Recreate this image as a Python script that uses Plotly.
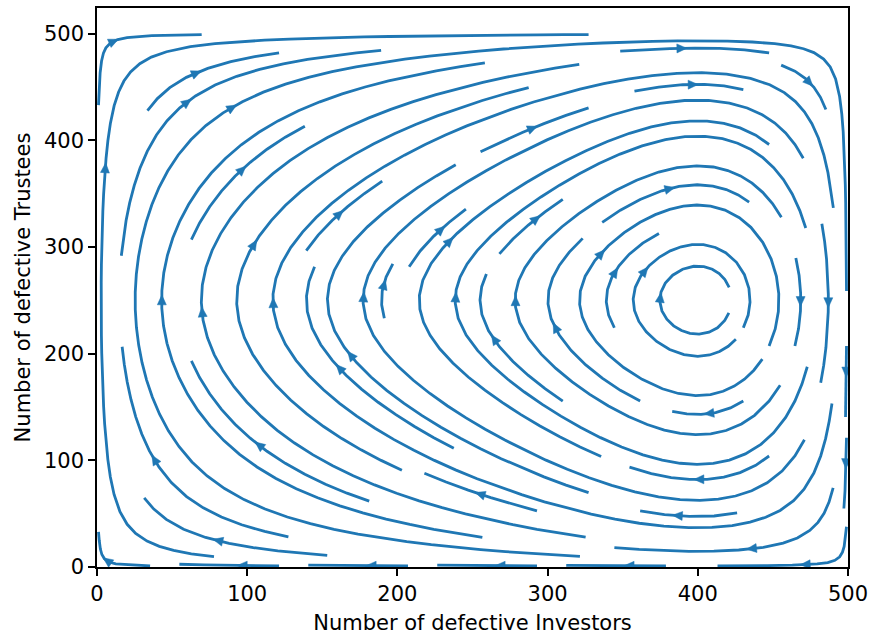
import numpy as np
import plotly.graph_objects as go

# ---------------- data ----------------
N_TOTAL = 500            # population size of each role
X_EQ = 400               # interior rest point: defective investors
Y_EQ = 250               # interior rest point: defective trustees
BETA_X = 0.016           # selection intensity felt by trustees (per investor)
BETA_Y = 0.014           # selection intensity felt by investors (per trustee)
grid_x = list(range(1, 500))
grid_y = list(range(1, 500))
x_ticks = [0, 100, 200, 300, 400, 500]
y_ticks = [0, 100, 200, 300, 400, 500]
x_range = [0, 500]
y_range = [0, 523.9]
x_title = "Number of defective Investors"
y_title = "Number of defective Trustees"
LINE_COLOR = "#1f77b4"

# ---------------- vector field (pairwise-comparison dynamics) ----------------
gx = np.array(grid_x, float)
gy = np.array(grid_y, float)
XX, YY = np.meshgrid(gx, gy)
U = XX * (N_TOTAL - XX) * np.tanh(BETA_Y * (YY - Y_EQ))
V = YY * (N_TOTAL - YY) * np.tanh(BETA_X * (X_EQ - XX))


# ---------------- streamline integration (matplotlib-style) ----------------
class OutOfBounds(Exception):
    pass


class Terminate(Exception):
    pass


class InvalidIndex(Exception):
    pass


class Grid:
    def __init__(self, x, y):
        self.nx, self.ny = len(x), len(y)
        self.dx, self.dy = x[1] - x[0], y[1] - y[0]
        self.x0, self.y0 = x[0], y[0]

    @property
    def shape(self):
        return self.ny, self.nx

    def within(self, xi, yi):
        return 0 <= xi <= self.nx - 1 and 0 <= yi <= self.ny - 1


class Mask:
    def __init__(self, density=1):
        self.nx = self.ny = int(30 * density)
        self.m = np.zeros((self.ny, self.nx))
        self.shape = self.m.shape
        self.cur = None
        self.traj = []

    def start(self, xm, ym):
        self.traj = []
        self.update(xm, ym)

    def undo(self):
        for t in self.traj:
            self.m[t] = 0

    def update(self, xm, ym):
        if self.cur != (xm, ym):
            if self.m[ym, xm] == 0:
                self.traj.append((ym, xm))
                self.m[ym, xm] = 1
                self.cur = (xm, ym)
            else:
                raise InvalidIndex


class DomainMap:
    def __init__(self, grid, mask):
        self.grid, self.mask = grid, mask
        self.xg2m = (mask.nx - 1) / (grid.nx - 1)
        self.yg2m = (mask.ny - 1) / (grid.ny - 1)

    def grid2mask(self, xi, yi):
        return round(xi * self.xg2m), round(yi * self.yg2m)

    def mask2grid(self, xm, ym):
        return xm / self.xg2m, ym / self.yg2m

    def start(self, xg, yg):
        xm, ym = self.grid2mask(xg, yg)
        self.mask.start(xm, ym)

    def reset(self, xg, yg):
        self.mask.cur = self.grid2mask(xg, yg)

    def update(self, xg, yg):
        if not self.grid.within(xg, yg):
            raise InvalidIndex
        xm, ym = self.grid2mask(xg, yg)
        self.mask.update(xm, ym)


def interp(a, xi, yi):
    ny, nx = a.shape
    x, y = int(xi), int(yi)
    xn = x if x == nx - 1 else x + 1
    yn = y if y == ny - 1 else y + 1
    xt, yt = xi - x, yi - y
    a0 = a[y, x] * (1 - xt) + a[y, xn] * xt
    a1 = a[yn, x] * (1 - xt) + a[yn, xn] * xt
    return a0 * (1 - yt) + a1 * yt


def streamlines(x, y, u, v, density=1, minlength=0.1, maxlength=4.0):
    grid = Grid(x, y)
    mask = Mask(density)
    dmap = DomainMap(grid, mask)
    ug = u / grid.dx
    vg = v / grid.dy
    speed = np.sqrt((ug / (grid.nx - 1)) ** 2 + (vg / (grid.ny - 1)) ** 2)

    def fwd(xi, yi):
        if not grid.within(xi, yi):
            raise OutOfBounds
        s = interp(speed, xi, yi)
        if s == 0:
            raise Terminate
        return interp(ug, xi, yi) / s, interp(vg, xi, yi) / s

    def bwd(xi, yi):
        a, b = fwd(xi, yi)
        return -a, -b

    def euler(traj, f):
        ny, nx = grid.shape
        xi, yi = traj[-1]
        cx, cy = f(xi, yi)
        dsx = np.inf if cx == 0 else (xi / -cx if cx < 0 else (nx - 1 - xi) / cx)
        dsy = np.inf if cy == 0 else (yi / -cy if cy < 0 else (ny - 1 - yi) / cy)
        ds = min(dsx, dsy)
        traj.append((xi + cx * ds, yi + cy * ds))
        return ds, traj

    def rk12(x0, y0, f):
        maxerror = 0.003
        maxds = min(1.0 / mask.nx, 1.0 / mask.ny, 0.1)
        ds = maxds
        stotal = 0.0
        xi, yi = x0, y0
        traj = []
        ny, nx = grid.shape
        while True:
            try:
                if grid.within(xi, yi):
                    traj.append((xi, yi))
                else:
                    raise OutOfBounds
                k1x, k1y = f(xi, yi)
                k2x, k2y = f(xi + ds * k1x, yi + ds * k1y)
            except OutOfBounds:
                if traj:
                    try:
                        d, traj = euler(traj, f)
                        stotal += d
                    except (OutOfBounds, Terminate):
                        pass
                break
            except Terminate:
                break
            dx1, dy1 = ds * k1x, ds * k1y
            dx2, dy2 = ds * 0.5 * (k1x + k2x), ds * 0.5 * (k1y + k2y)
            err = np.hypot((dx2 - dx1) / (nx - 1), (dy2 - dy1) / (ny - 1))
            if err < maxerror:
                xi += dx2
                yi += dy2
                try:
                    dmap.update(xi, yi)
                except InvalidIndex:
                    break
                if stotal + ds > maxlength:
                    break
                stotal += ds
            ds = maxds if err == 0 else min(maxds, 0.85 * ds * (maxerror / err) ** 0.5)
        return stotal, traj

    def integrate(x0, y0):
        try:
            dmap.start(x0, y0)
        except InvalidIndex:
            return None
        stot = 0.0
        s, xyt = rk12(x0, y0, bwd)
        stot += s
        traj = xyt[::-1]
        dmap.reset(x0, y0)
        s, xyt = rk12(x0, y0, fwd)
        stot += s
        traj += xyt[1:]
        if stot > minlength:
            return np.array(traj)
        mask.undo()
        return None

    def gen_start(shape):
        ny, nx = shape
        xfirst, yfirst, xlast, ylast = 0, 1, nx - 1, ny - 1
        xx, yy = 0, 0
        direction = "right"
        for _ in range(nx * ny):
            yield xx, yy
            if direction == "right":
                xx += 1
                if xx >= xlast:
                    xlast -= 1
                    direction = "up"
            elif direction == "up":
                yy += 1
                if yy >= ylast:
                    ylast -= 1
                    direction = "left"
            elif direction == "left":
                xx -= 1
                if xx <= xfirst:
                    xfirst += 1
                    direction = "down"
            else:
                yy -= 1
                if yy <= yfirst:
                    yfirst += 1
                    direction = "right"

    out = []
    for xm, ym in gen_start(mask.shape):
        if mask.m[ym, xm] == 0:
            xg, yg = dmap.mask2grid(xm, ym)
            t = integrate(xg, yg)
            if t is not None and len(t) > 1:
                out.append(np.column_stack([t[:, 0] * grid.dx + grid.x0,
                                            t[:, 1] * grid.dy + grid.y0]))
    return out


trajs = streamlines(gx, gy, U, V)

# ---------------- figure geometry ----------------
W, H = 871, 637
ML, MR, MT, MB = 97, 23, 8, 70
pw, ph = W - ML - MR, H - MT - MB
sx = pw / (x_range[1] - x_range[0])
sy = ph / (y_range[1] - y_range[0])

lx, ly = [], []
ax_, ay_ = [], []
HEAD_L, HEAD_W = 10.0, 9.0
for t in trajs:
    tx, ty = t[:, 0], t[:, 1]
    lx += list(tx) + [None]
    ly += list(ty) + [None]
    s = np.cumsum(np.hypot(np.diff(tx), np.diff(ty)))
    n = int(np.searchsorted(s, s[-1] / 2.0))
    n = min(n, len(tx) - 2)
    tail = np.array([tx[n], ty[n]])
    head = np.array([tx[n:n + 2].mean(), ty[n:n + 2].mean()])
    dpx = np.array([(head[0] - tail[0]) * sx, (head[1] - tail[1]) * sy])
    if np.hypot(*dpx) == 0:
        dpx = np.array([(tx[n + 1] - tx[n]) * sx, (ty[n + 1] - ty[n]) * sy])
    d = dpx / np.hypot(*dpx)
    p = np.array([-d[1], d[0]])
    tip = np.array([head[0] * sx, head[1] * sy]) + d * HEAD_L * 0.45
    base = tip - d * HEAD_L
    pts = [tip, base + p * HEAD_W / 2, base - p * HEAD_W / 2, tip]
    for q in pts:
        ax_.append(q[0] / sx)
        ay_.append(q[1] / sy)
    ax_.append(None)
    ay_.append(None)

fig = go.Figure()
fig.add_trace(go.Scatter(x=lx, y=ly, mode="lines",
                         line=dict(color=LINE_COLOR, width=2.8),
                         hoverinfo="skip", showlegend=False))
fig.add_trace(go.Scatter(x=ax_, y=ay_, mode="lines", fill="toself",
                         fillcolor=LINE_COLOR, line=dict(color=LINE_COLOR, width=0.5),
                         hoverinfo="skip", showlegend=False))

FS = 21
axis_common = dict(showgrid=False, zeroline=False, showline=True, linecolor="black",
                   linewidth=1.5, mirror=True, ticks="outside", ticklen=7, tickwidth=1.5,
                   tickcolor="black", tickfont=dict(size=FS, color="black"), automargin=False)
fig.update_layout(
    width=W, height=H,
    margin=dict(l=ML, r=MR, t=MT, b=MB),
    paper_bgcolor="white", plot_bgcolor="white",
    font=dict(family="DejaVu Sans", color="black"),
    xaxis=dict(range=x_range, tickvals=x_ticks, title=dict(text=x_title, font=dict(size=FS), standoff=10),
               **axis_common),
    yaxis=dict(range=y_range, tickvals=y_ticks, title=dict(text=y_title, font=dict(size=FS), standoff=8),
               **axis_common),
)
fig.write_html("out.html")
